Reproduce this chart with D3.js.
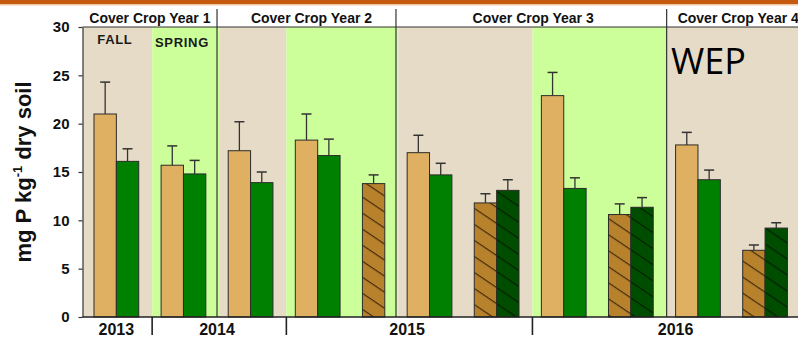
<!DOCTYPE html>
<html>
<head>
<meta charset="utf-8">
<script src="https://cdn.jsdelivr.net/npm/d3@7"></script>
<style>
  html, body { margin: 0; padding: 0; background: #ffffff; }
  svg { display: block; }
  text { font-family: "Liberation Sans", Arial, sans-serif; }
</style>
</head>
<body>
<svg id="chart" width="798" height="339"></svg>
<script>
// ---------------- DATA ----------------
const seasons      = ["Fall 2013", "Spring 2014", "Fall 2014", "Spring 2015", "Fall 2015", "Spring 2016", "Fall 2016"];
const seasonType   = ["FALL", "SPRING", "FALL", "SPRING", "FALL", "SPRING", "FALL"];
const seasonYear   = ["2013", "2014", "2014", "2015", "2015", "2016", "2016"];
const coverCropYr  = ["Cover Crop Year 1", "Cover Crop Year 1", "Cover Crop Year 2", "Cover Crop Year 2",
                      "Cover Crop Year 3", "Cover Crop Year 3", "Cover Crop Year 4"];
const years        = ["2013", "2014", "2015", "2016"];
const yTicks       = [0, 5, 10, 15, 20, 25, 30];

// series means (mg P kg-1 dry soil) and standard errors; null = not sampled
const noCover      = [21.0, 15.7, 17.2, 18.3, 17.0, 22.9, 17.8];
const noCoverErr   = [3.3, 2.0, 3.0, 2.7, 1.8, 2.4, 1.3];
const cover        = [16.1, 14.8, 13.9, 16.7, 14.7, 13.3, 14.2];
const coverErr     = [1.3, 1.4, 1.1, 1.7, 1.2, 1.1, 1.0];
const noCoverH     = [null, null, null, 13.8, 11.8, 10.6, 6.9];
const noCoverHErr  = [null, null, null, 0.9, 0.95, 1.1, 0.55];
const coverH       = [null, null, null, null, 13.1, 11.35, 9.2];
const coverHErr    = [null, null, null, null, 1.1, 1.0, 0.55];

// ---------------- LAYOUT ----------------
const svg = d3.select("#chart");
const plotLeft = 82.5, plotTop = 27, plotBottom = 317;
const seriesDefs = [
  { vals: noCover,  errs: noCoverErr,  fill: "#E0B062", hatch: null },
  { vals: cover,    errs: coverErr,    fill: "#008000", hatch: null },
  { vals: noCoverH, errs: noCoverHErr, fill: "#B8812B", hatch: "hatchBrown" },
  { vals: coverH,   errs: coverHErr,   fill: "#004D00", hatch: "hatchGreen" }
];

// compute slot layout per season from the data structure
let cursor = 0;
const seasonInfo = [];
const bars = [];
seasons.forEach((s, i) => {
  const start = cursor;
  cursor += 0.5;
  [0, 1].forEach(k => {
    if (seriesDefs[k].vals[i] != null) bars.push({ season: i, k, slot: cursor });
    cursor += 1;
  });
  if (seriesDefs[2].vals[i] != null || seriesDefs[3].vals[i] != null) {
    cursor += 1;
    [2, 3].forEach(k => {
      if (seriesDefs[k].vals[i] != null) { bars.push({ season: i, k, slot: cursor }); cursor += 1; }
    });
  }
  cursor += 0.5;
  seasonInfo.push({ start, end: cursor });
});
const total = cursor;
const domainEnd = total + 1;
seasonInfo[seasonInfo.length - 1].end = domainEnd;

const x = d3.scaleLinear().domain([0, domainEnd]).range([plotLeft + 0.3, 821]);
const y = d3.scaleLinear().domain([0, 30]).range([plotBottom, plotTop]);
const bgShift = 0.1; // background boundaries sit slightly right of group edges

// ---------------- DEFS (hatch) ----------------
const defs = svg.append("defs");
function hatch(id, bg, line) {
  const p = defs.append("pattern").attr("id", id)
    .attr("patternUnits", "userSpaceOnUse")
    .attr("width", 10).attr("height", 13.3)
    .attr("patternTransform", "rotate(34)");
  p.append("rect").attr("width", 10).attr("height", 13.3).attr("fill", bg);
  p.append("line").attr("x1", 0).attr("x2", 10).attr("y1", 0.6).attr("y2", 0.6)
    .attr("stroke", line).attr("stroke-width", 1.1);
}
hatch("hatchBrown", "#B8812B", "#3A2608");
hatch("hatchGreen", "#004D00", "#001A00");

// ---------------- TOP BAND ----------------
svg.append("rect").attr("x", 0).attr("y", 0).attr("width", 798).attr("height", 4).attr("fill", "#C55A11");
svg.append("rect").attr("x", 0).attr("y", 4).attr("width", 798).attr("height", 1.5).attr("fill", "#F1C7A4");

// ---------------- BACKGROUNDS ----------------
svg.append("g").selectAll("rect").data(seasonInfo).join("rect")
  .attr("x", (d, i) => i === 0 ? x(0) : x(d.start + bgShift))
  .attr("y", y(30))
  .attr("width", (d, i) => x(d.end + bgShift) - (i === 0 ? x(0) : x(d.start + bgShift)))
  .attr("height", y(0) - y(30))
  .attr("fill", (d, i) => seasonType[i] === "FALL" ? "#E6DBC6" : "#CCFF99");

// season labels (only first year)
[0, 1].forEach(i => {
  svg.append("text")
    .attr("x", (x(seasonInfo[i].start) + x(seasonInfo[i].end)) / 2 - 1.5)
    .attr("y", i === 0 ? 44 : 46.5)
    .attr("text-anchor", "middle")
    .attr("font-size", 13).attr("font-weight", "bold")
    .attr("letter-spacing", 0.7)
    .attr("fill", "#1a1a1a")
    .text(seasonType[i]);
});

// ---------------- BARS ----------------
const barW = x(1) - x(0);
const gBars = svg.append("g");
bars.forEach(b => {
  const s = seriesDefs[b.k];
  const v = s.vals[b.season];
  gBars.append("rect")
    .attr("x", x(b.slot))
    .attr("y", y(v))
    .attr("width", barW)
    .attr("height", y(0) - y(v))
    .attr("fill", s.hatch ? `url(#${s.hatch})` : s.fill)
    .attr("stroke", "#2b2b2b").attr("stroke-width", 1);
});
// error bars
bars.forEach(b => {
  const s = seriesDefs[b.k];
  const v = s.vals[b.season], e = s.errs[b.season];
  const cx = x(b.slot + 0.5);
  gBars.append("line").attr("x1", cx).attr("x2", cx).attr("y1", y(v)).attr("y2", y(v + e))
    .attr("stroke", "#333").attr("stroke-width", 1.3);
  gBars.append("line").attr("x1", cx - 5).attr("x2", cx + 5).attr("y1", y(v + e)).attr("y2", y(v + e))
    .attr("stroke", "#333").attr("stroke-width", 1.5);
});

// ---------------- COVER CROP YEAR HEADERS ----------------
const ccGroups = d3.groups(seasons.map((s, i) => i), i => coverCropYr[i]);
ccGroups.forEach(([label, idx], gi) => {
  const s0 = seasonInfo[idx[0]].start;
  let s1 = seasonInfo[idx[idx.length - 1]].end;
  if (gi === ccGroups.length - 1) s1 = total + 0.6;
  svg.append("text")
    .attr("x", (x(s0) + x(s1)) / 2 + (gi === 1 ? 5 : gi === 2 ? 3 : 0))
    .attr("y", 23)
    .attr("text-anchor", "middle")
    .attr("font-size", 14).attr("font-weight", "bold")
    .attr("fill", "#111")
    .text(label);
  if (gi > 0) {
    const dx = x(s0 + (gi === 3 ? bgShift : 0));
    svg.append("line").attr("x1", dx).attr("x2", dx).attr("y1", 9).attr("y2", y(0))
      .attr("stroke", "#333").attr("stroke-width", 1.2);
  }
});

// top border of plot
svg.append("line").attr("x1", plotLeft).attr("x2", 798).attr("y1", y(30)).attr("y2", y(30))
  .attr("stroke", "#333").attr("stroke-width", 1.2);

// ---------------- AXES ----------------
const yAxis = svg.append("g").attr("transform", `translate(${plotLeft},0)`)
  .call(d3.axisLeft(y).tickValues(yTicks).tickSize(4).tickPadding(9).tickSizeOuter(0));
yAxis.select(".domain").attr("stroke", "#333").attr("stroke-width", 1.2);
yAxis.selectAll(".tick line").attr("stroke", "#333").attr("stroke-width", 1.2);
yAxis.selectAll(".tick text").attr("font-size", 15).attr("font-weight", "bold")
  .attr("fill", "#111").style("font-family", "'Liberation Sans', Arial, sans-serif");

// bottom axis line
svg.append("line").attr("x1", plotLeft).attr("x2", 798).attr("y1", y(0)).attr("y2", y(0))
  .attr("stroke", "#222").attr("stroke-width", 1.5);

// year labels & separators
const yrGroups = d3.groups(seasons.map((s, i) => i), i => seasonYear[i]);
yrGroups.forEach(([yr, idx], gi) => {
  const s0 = seasonInfo[idx[0]].start;
  const s1 = seasonInfo[idx[idx.length - 1]].end;
  svg.append("text")
    .attr("x", (x(s0) + x(s1)) / 2)
    .attr("y", 335)
    .attr("text-anchor", "middle")
    .attr("font-size", 16).attr("font-weight", "bold")
    .attr("fill", "#111")
    .text(yr);
  if (gi > 0) {
    const dx = x(s0 + bgShift);
    svg.append("line").attr("x1", dx).attr("x2", dx).attr("y1", y(0)).attr("y2", 335)
      .attr("stroke", "#222").attr("stroke-width", 1.6);
  }
});

// y title
const yt = svg.append("text")
  .attr("transform", "translate(31,172) rotate(-90)")
  .attr("text-anchor", "middle")
  .attr("font-size", 22).attr("font-weight", "bold")
  .attr("fill", "#111");
yt.append("tspan").text("mg P kg");
yt.append("tspan").attr("dy", -9).attr("font-size", 13).text("-1");
yt.append("tspan").attr("dy", 9).text(" dry soil");

// WEP label
svg.append("text")
  .attr("x", 671).attr("y", 74)
  .attr("font-size", 36)
  .style("font-family", "'Open Sans', 'Noto Sans', sans-serif")
  .attr("fill", "#000")
  .text("WEP");
</script>
</body>
</html>
